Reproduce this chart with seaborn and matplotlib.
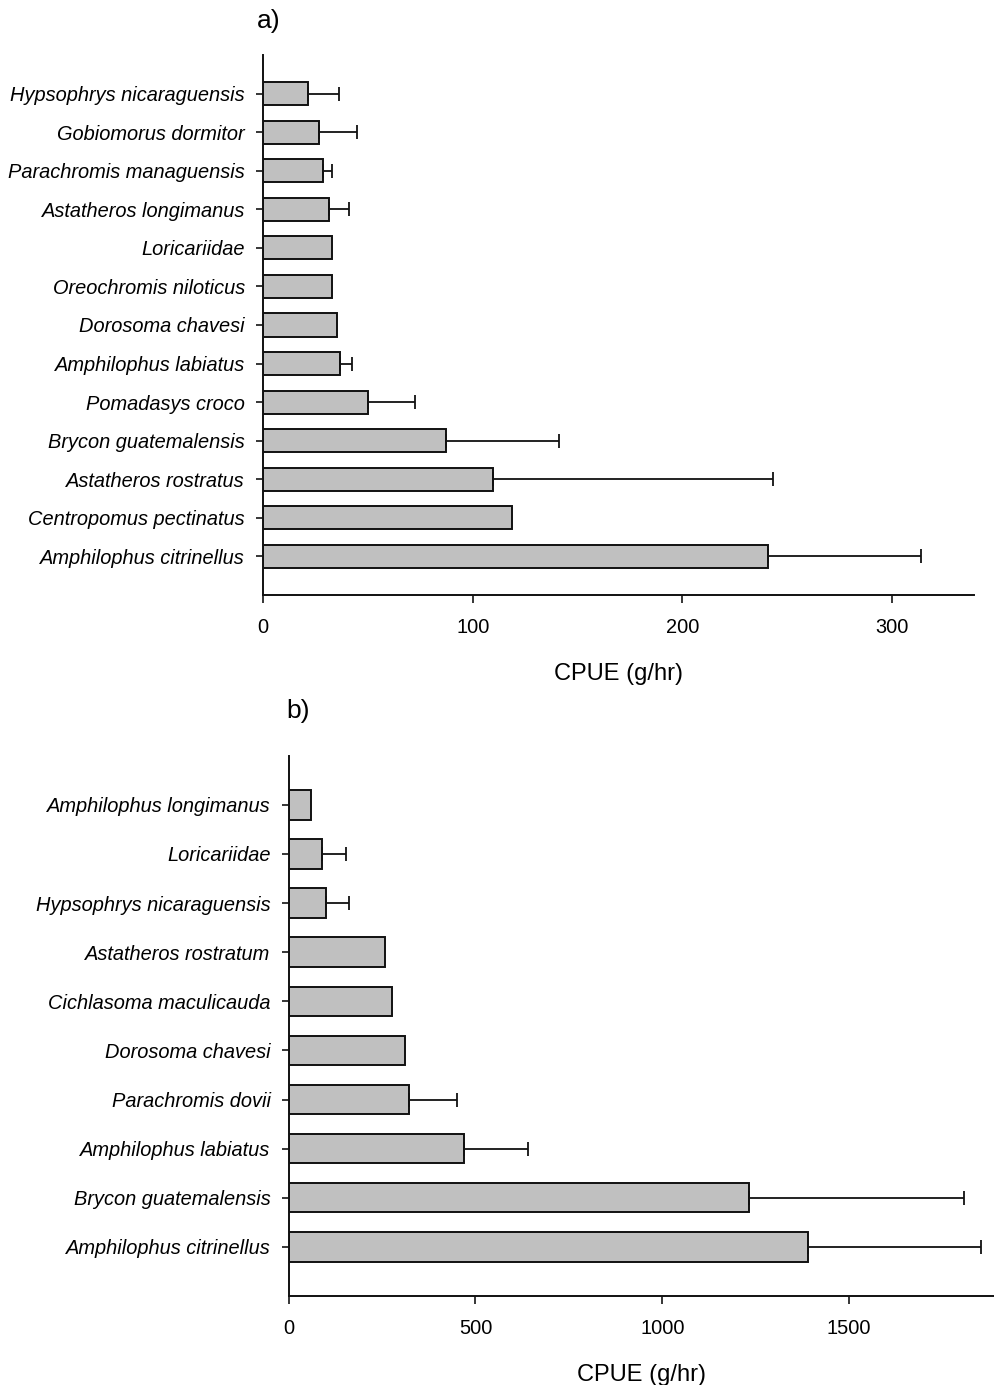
import numpy as np
import pandas as pd
import matplotlib
matplotlib.use("Agg")
import matplotlib.pyplot as plt
import seaborn as sns

# Panel a: species and CPUE (g/hr), top to bottom
species_a = ["Hypsophrys nicaraguensis", "Gobiomorus dormitor", "Parachromis managuensis",
             "Astatheros longimanus", "Loricariidae", "Oreochromis niloticus",
             "Dorosoma chavesi", "Amphilophus labiatus", "Pomadasys croco",
             "Brycon guatemalensis", "Astatheros rostratus", "Centropomus pectinatus",
             "Amphilophus citrinellus"]
cpue_a = [21.6, 26.8, 28.4, 31.6, 33.1, 33.1, 35.5, 36.7, 50.3, 87.3, 109.9, 118.5, 240.7]
err_a = [14.7, 18.2, 4.3, 9.4, np.nan, np.nan, np.nan, 5.7, 22.1, 53.8, 133.3, np.nan, 73.0]
ticks_a = [0, 100, 200, 300]

# Panel b: species and CPUE (g/hr), top to bottom
species_b = ["Amphilophus longimanus", "Loricariidae", "Hypsophrys nicaraguensis",
             "Astatheros rostratum", "Cichlasoma maculicauda", "Dorosoma chavesi",
             "Parachromis dovii", "Amphilophus labiatus", "Brycon guatemalensis",
             "Amphilophus citrinellus"]
cpue_b = [59, 90, 101, 259, 277, 312, 322, 468, 1233, 1389]
err_b = [np.nan, 63, 61, np.nan, np.nan, np.nan, 129, 173, 575, 463]
ticks_b = [0, 500, 1000, 1500]

sns.set_style("ticks")
plt.rcParams["font.family"] = ["Liberation Sans", "DejaVu Sans"]
plt.rcParams.update({"text.color": "black", "axes.labelcolor": "black",
                     "xtick.color": "black", "ytick.color": "black"})

W, H = 994, 1385
fig = plt.figure(figsize=(W / 100, H / 100), dpi=100)


def px_axes(left, right, top, bottom):
    return fig.add_axes([left / W, (H - bottom) / H, (right - left) / W, (bottom - top) / H])


def panel(ax, species, cpue, err, ticks, xmax, label, label_y):
    df = pd.DataFrame({"species": species, "cpue": cpue})
    sns.barplot(data=df, x="cpue", y="species", orient="h", order=species,
                color="#c0c0c0", saturation=1, width=0.6,
                edgecolor="#111111", linewidth=1.4, ax=ax, errorbar=None)
    e = np.asarray(err, dtype=float)
    v = np.asarray(cpue, dtype=float)
    pos = np.arange(len(species))
    m = ~np.isnan(e)
    ax.errorbar(v[m], pos[m], xerr=[np.zeros(m.sum()), e[m]], fmt="none",
                ecolor="#111111", elinewidth=1.3, capsize=5, capthick=1.3, zorder=1)
    ax.set_xlim(0, xmax)
    ax.set_ylim(len(species), -1)
    ax.set_xticks(ticks)
    ax.set_xticklabels([str(t) for t in ticks])
    ax.set_ylabel("")
    ax.set_xlabel("CPUE (g/hr)", fontsize=17, labelpad=19)
    for s in ["top", "right"]:
        ax.spines[s].set_visible(False)
    for s in ["left", "bottom"]:
        ax.spines[s].set_linewidth(1.4)
        ax.spines[s].set_color("#111111")
    ax.tick_params(axis="y", length=5, width=1.1, pad=8, labelsize=14.4)
    ax.tick_params(axis="x", length=5.5, width=1.1, pad=11, labelsize=14.4)
    for t in ax.get_yticklabels():
        t.set_fontstyle("italic")
    ax.text(0.0, label_y, label, transform=ax.transAxes, fontsize=19,
            ha="center", va="bottom")


ax_a = px_axes(263, 974, 55, 595)
panel(ax_a, species_a, cpue_a, err_a, ticks_a, 339, "a)", 1.04)
ax_a.texts[-1].set_x(0.008)

ax_b = px_axes(288.7, 994, 755.7, 1296)
panel(ax_b, species_b, cpue_b, err_b, ticks_b, 1888, "b)", 1.06)
ax_b.texts[-1].set_x(0.013)

fig.savefig("out.png", dpi=100)
